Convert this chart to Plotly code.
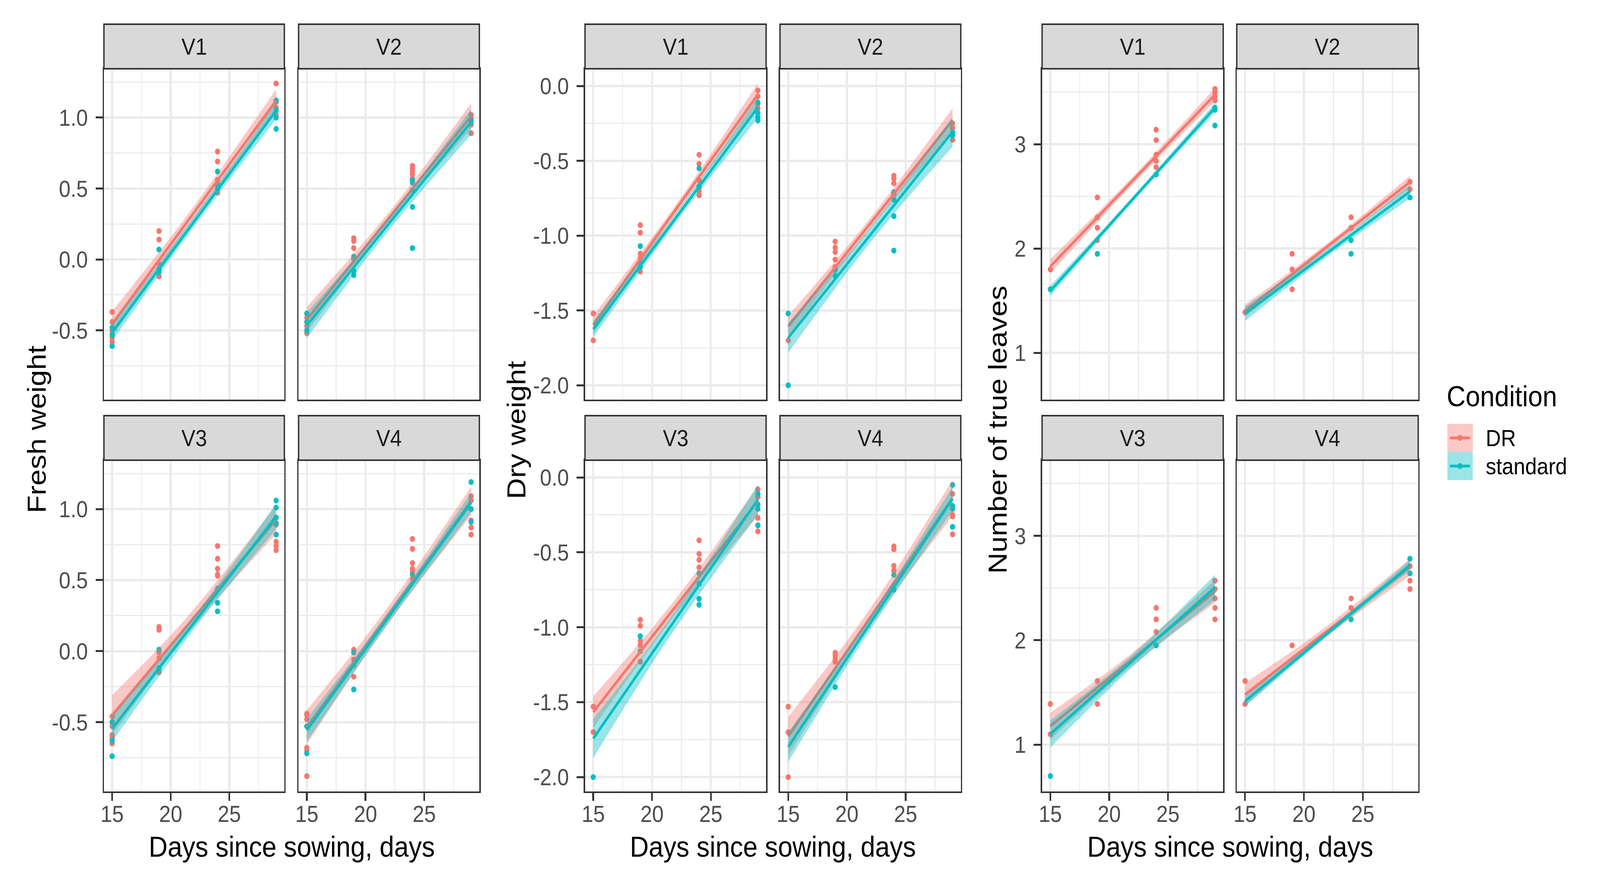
import numpy as np
import plotly.graph_objects as go

# ---------------- data ----------------
DAYS = [15, 19, 24, 29]
VARIETIES = ["V1", "V2", "V3", "V4"]
CONDITIONS = ["DR", "standard"]

# values grouped by day (same order as DAYS)
FRESH_V1_DR = [[-0.37, -0.44, -0.50, -0.55, -0.58], [0.20, 0.14, -0.03, -0.12], [0.76, 0.69, 0.56, 0.47, 0.53], [1.24, 1.11, 1.07, 1.02]]
FRESH_V1_STD = [[-0.48, -0.53, -0.61], [0.07, -0.07, -0.09], [0.62, 0.52, 0.50], [1.12, 1.05, 1.00, 0.92]]
FRESH_V2_DR = [[-0.41, -0.44, -0.47, -0.52], [0.15, 0.13, 0.08, 0.00], [0.66, 0.64, 0.62, 0.60, 0.57], [1.02, 1.00, 0.95, 0.89]]
FRESH_V2_STD = [[-0.38, -0.44, -0.50], [0.02, -0.08, -0.11], [0.56, 0.54, 0.49, 0.37, 0.08], [0.98, 0.97]]
FRESH_V3_DR = [[-0.46, -0.53, -0.59, -0.61, -0.65], [0.17, 0.15, -0.01, -0.05, -0.15], [0.74, 0.65, 0.58, 0.54, 0.53], [0.90, 0.89, 0.77, 0.74, 0.71]]
FRESH_V3_STD = [[-0.50, -0.63, -0.74], [0.01, -0.12], [0.44, 0.34, 0.28], [1.06, 1.01, 0.94, 0.90, 0.82]]
FRESH_V4_DR = [[-0.44, -0.45, -0.48, -0.68, -0.70, -0.88], [0.01, -0.06, -0.10, -0.18], [0.79, 0.72, 0.62, 0.58, 0.56, 0.51], [1.09, 1.06, 0.92, 0.87, 0.82]]
FRESH_V4_STD = [[-0.53, -0.72], [-0.01, -0.27], [0.54], [1.19, 1.00, 0.91]]

DRY_V1_DR = [[-1.52, -1.70], [-0.93, -0.98, -1.12, -1.15, -1.18, -1.24], [-0.46, -0.52, -0.63, -0.70, -0.73], [-0.03, -0.07, -0.12, -0.15]]
DRY_V1_STD = [[], [-1.07, -1.21], [-0.55, -0.67], [-0.11, -0.18, -0.21, -0.23]]
DRY_V2_DR = [[-1.70], [-1.04, -1.08, -1.11, -1.16, -1.21], [-0.60, -0.62, -0.65, -0.72], [-0.25, -0.28, -0.36]]
DRY_V2_STD = [[-1.52, -2.00], [-1.23, -1.27], [-0.71, -0.76, -0.87, -1.10], [-0.31, -0.33]]
DRY_V3_DR = [[-1.53, -1.70], [-0.95, -0.99, -1.09, -1.12, -1.23], [-0.42, -0.51, -0.55, -0.60], [-0.08, -0.13, -0.27, -0.32, -0.36]]
DRY_V3_STD = [[-2.00], [-1.06, -1.16], [-0.64, -0.71, -0.81, -0.85], [-0.11, -0.18, -0.21, -0.32]]
DRY_V4_DR = [[-1.53, -1.70, -2.00], [-1.17, -1.19, -1.21, -1.23], [-0.46, -0.48, -0.59, -0.62], [-0.11, -0.25, -0.26, -0.38]]
DRY_V4_STD = [[], [-1.40], [-0.65, -0.75], [-0.05, -0.19, -0.21, -0.33]]

LEAVES_V1_DR = [[1.80], [2.49, 2.30, 2.20, 2.08], [3.14, 3.04, 2.90, 2.84, 2.78], [3.53, 3.50, 3.46, 3.42]]
LEAVES_V1_STD = [[1.61], [1.95], [2.71], [3.35, 3.33, 3.18]]
LEAVES_V2_DR = [[1.39], [1.95, 1.80, 1.61], [2.30, 2.20], [2.64, 2.57]]
LEAVES_V2_STD = [[], [], [2.08, 1.95], [2.49]]
LEAVES_V3_DR = [[1.39, 1.10], [1.61, 1.39], [2.31, 2.20, 2.08], [2.57, 2.49, 2.40, 2.31, 2.20]]
LEAVES_V3_STD = [[0.70], [], [1.95], []]
LEAVES_V4_DR = [[1.61, 1.39], [1.95], [2.40, 2.31], [2.71, 2.57, 2.49]]
LEAVES_V4_STD = [[], [], [2.20], [2.78, 2.64]]

# fitted line (value at day 15, value at day 29) per variety
FRESH_DR_FIT = [[-0.455, 1.12], [-0.424, 1.01], [-0.451, 0.927], [-0.536, 1.056]]
FRESH_STD_FIT = [[-0.515, 1.05], [-0.465, 0.97], [-0.547, 0.949], [-0.558, 1.045]]
DRY_DR_FIT = [[-1.597, -0.057], [-1.606, -0.229], [-1.566, -0.158], [-1.728, -0.138]]
DRY_STD_FIT = [[-1.625, -0.143], [-1.683, -0.306], [-1.743, -0.148], [-1.799, -0.142]]
LEAVES_DR_FIT = [[1.829, 3.475], [1.403, 2.638], [1.177, 2.468], [1.48, 2.70]]
LEAVES_STD_FIT = [[1.595, 3.351], [1.376, 2.547], [1.102, 2.506], [1.416, 2.718]]

# confidence band half-width (day 15, middle, day 29) per variety
FRESH_DR_CI = [[0.09, 0.045, 0.08], [0.09, 0.04, 0.09], [0.14, 0.06, 0.10], [0.12, 0.06, 0.10]]
FRESH_STD_CI = [[0.06, 0.035, 0.06], [0.09, 0.045, 0.09], [0.09, 0.045, 0.09], [0.08, 0.04, 0.07]]
DRY_DR_CI = [[0.06, 0.03, 0.075], [0.07, 0.035, 0.08], [0.105, 0.05, 0.10], [0.13, 0.06, 0.12]]
DRY_STD_CI = [[0.055, 0.03, 0.07], [0.10, 0.05, 0.10], [0.13, 0.06, 0.10], [0.10, 0.045, 0.08]]
LEAVES_DR_CI = [[0.07, 0.035, 0.065], [0.06, 0.03, 0.06], [0.13, 0.06, 0.11], [0.11, 0.05, 0.08]]
LEAVES_STD_CI = [[0.05, 0.025, 0.045], [0.07, 0.035, 0.065], [0.13, 0.06, 0.12], [0.05, 0.025, 0.05]]

X_TICKS = [15, 20, 25]
X_TICK_LABELS = ["15", "20", "25"]
X_MINOR = [17.5, 22.5, 27.5]
FRESH_TICKS = [-0.5, 0.0, 0.5, 1.0]
FRESH_TICK_LABELS = ["-0.5", "0.0", "0.5", "1.0"]
FRESH_MINOR = [-0.75, -0.25, 0.25, 0.75, 1.25]
DRY_TICKS = [-2.0, -1.5, -1.0, -0.5, 0.0]
DRY_TICK_LABELS = ["-2.0", "-1.5", "-1.0", "-0.5", "0.0"]
DRY_MINOR = [-1.75, -1.25, -0.75, -0.25]
LEAVES_TICKS = [1, 2, 3]
LEAVES_TICK_LABELS = ["1", "2", "3"]
LEAVES_MINOR = [1.5, 2.5, 3.5]

Y_TITLES = ["Fresh weight", "Dry weight", "Number of true leaves"]
X_TITLE = "Days since sowing, days"
LEGEND_TITLE = "Condition"

# ---------------- styling / layout ----------------
W, H = 4593, 2268
FONT = "Liberation Sans, Arial, sans-serif"
COL = {"DR": "#F8766D", "standard": "#00BFC4"}
FILL = {"DR": "rgba(248,118,109,0.4)", "standard": "rgba(0,191,196,0.4)"}
GRID = "#EBEBEB"
DARK = "#333333"
TITLE_SIZE = 75
TEXT_SIZE = 60

PANEL_X = [[(289, 808), (849, 1369)], [(1673, 2194), (2234, 2754)], [(2988, 3509), (3548, 4070)]]
ROW_Y = [(176, 1023), (1178, 2026)]
STRIP_Y = [(62, 176), (1064, 1178)]
X_RANGE = [14.3, 29.7]
Y_RANGES = [[-0.988, 1.344], [-2.096, 0.115], [0.552, 3.724]]


def px(x):
    return x / W


def py(y):
    return 1 - y / H


measures = [
    dict(dr=[FRESH_V1_DR, FRESH_V2_DR, FRESH_V3_DR, FRESH_V4_DR],
         st=[FRESH_V1_STD, FRESH_V2_STD, FRESH_V3_STD, FRESH_V4_STD],
         drfit=FRESH_DR_FIT, stfit=FRESH_STD_FIT, drci=FRESH_DR_CI, stci=FRESH_STD_CI,
         ticks=FRESH_TICKS, labels=FRESH_TICK_LABELS, minor=FRESH_MINOR),
    dict(dr=[DRY_V1_DR, DRY_V2_DR, DRY_V3_DR, DRY_V4_DR],
         st=[DRY_V1_STD, DRY_V2_STD, DRY_V3_STD, DRY_V4_STD],
         drfit=DRY_DR_FIT, stfit=DRY_STD_FIT, drci=DRY_DR_CI, stci=DRY_STD_CI,
         ticks=DRY_TICKS, labels=DRY_TICK_LABELS, minor=DRY_MINOR),
    dict(dr=[LEAVES_V1_DR, LEAVES_V2_DR, LEAVES_V3_DR, LEAVES_V4_DR],
         st=[LEAVES_V1_STD, LEAVES_V2_STD, LEAVES_V3_STD, LEAVES_V4_STD],
         drfit=LEAVES_DR_FIT, stfit=LEAVES_STD_FIT, drci=LEAVES_DR_CI, stci=LEAVES_STD_CI,
         ticks=LEAVES_TICKS, labels=LEAVES_TICK_LABELS, minor=LEAVES_MINOR),
]


def flatten(groups):
    xs, ys = [], []
    for d, vals in zip(DAYS, groups):
        for v in vals:
            xs.append(d)
            ys.append(v)
    return xs, ys


def band(fit, ci):
    x0, x1 = DAYS[0], DAYS[-1]
    xs = np.linspace(x0, x1, 57)
    yc = fit[0] + (fit[1] - fit[0]) * (xs - x0) / (x1 - x0)
    xm = (x0 + x1) / 2
    h15, hm, h29 = ci
    t = np.abs(xs - xm) / (xm - x0)
    hend = np.where(xs <= xm, h15, h29)
    h = np.sqrt(hm ** 2 + (hend ** 2 - hm ** 2) * t ** 2)
    return (list(xs) + list(xs[::-1]), list(yc + h) + list((yc - h)[::-1]))


fig = go.Figure()
layout = {}
shapes = []
annotations = []
tickfont = dict(family=FONT, size=TEXT_SIZE, color="#4D4D4D")

for m, meas in enumerate(measures):
    for v in range(4):
        k = m * 4 + v + 1
        col, row = v % 2, v // 2
        xa, ya = f"x{k}", f"y{k}"
        (x0p, x1p) = PANEL_X[m][col]
        (y0p, y1p) = ROW_Y[row]
        bottom = row == 1
        left = col == 0
        layout[f"xaxis{k}"] = dict(
            domain=[px(x0p), px(x1p)], anchor=ya, range=X_RANGE,
            tickvals=X_TICKS, ticktext=X_TICK_LABELS, showticklabels=bottom,
            ticks="outside" if bottom else "", ticklen=20, tickwidth=5, tickcolor=DARK,
            ticklabelstandoff=-18,
            tickfont=tickfont, showgrid=True, gridcolor=GRID, gridwidth=5.5,
            minor=dict(tickvals=X_MINOR, showgrid=True, gridcolor=GRID, gridwidth=2.8, ticks=""),
            showline=True, mirror=True, linecolor=DARK, linewidth=4, zeroline=False,
        )
        layout[f"yaxis{k}"] = dict(
            domain=[py(y1p), py(y0p)], anchor=xa, range=Y_RANGES[m],
            tickvals=meas["ticks"], ticktext=meas["labels"], showticklabels=left,
            ticks="outside" if left else "", ticklen=20, tickwidth=5, tickcolor=DARK,
            ticklabelstandoff=10,
            tickfont=tickfont, showgrid=True, gridcolor=GRID, gridwidth=5.5,
            minor=dict(tickvals=meas["minor"], showgrid=True, gridcolor=GRID, gridwidth=2.8, ticks=""),
            showline=True, mirror=True, linecolor=DARK, linewidth=4, zeroline=False,
        )
        # points
        for cond, groups in (("DR", meas["dr"][v]), ("standard", meas["st"][v])):
            xs, ys = flatten(groups)
            fig.add_trace(go.Scatter(x=xs, y=ys, mode="markers", xaxis=xa, yaxis=ya,
                                     marker=dict(color=COL[cond], size=15, line=dict(width=0)),
                                     name=cond, showlegend=False, hoverinfo="skip"))
        # smooth: band then line per group
        for cond, fit, ci in (("DR", meas["drfit"][v], meas["drci"][v]),
                              ("standard", meas["stfit"][v], meas["stci"][v])):
            bx, by = band(fit, ci)
            fig.add_trace(go.Scatter(x=bx, y=by, mode="lines", fill="toself", fillcolor=FILL[cond],
                                     line=dict(width=0), xaxis=xa, yaxis=ya, showlegend=False,
                                     hoverinfo="skip"))
            fig.add_trace(go.Scatter(x=[DAYS[0], DAYS[-1]], y=fit, mode="lines",
                                     line=dict(color=COL[cond], width=7), xaxis=xa, yaxis=ya,
                                     showlegend=False, hoverinfo="skip"))
        # strip
        (s0, s1) = STRIP_Y[row]
        shapes.append(dict(type="rect", xref="paper", yref="paper", x0=px(x0p), x1=px(x1p),
                           y0=py(s1), y1=py(s0), fillcolor="#D9D9D9",
                           line=dict(color=DARK, width=4), layer="above"))
        annotations.append(dict(text=VARIETIES[v], xref="paper", yref="paper",
                                x=px((x0p + x1p) / 2), y=py((s0 + s1) / 2), showarrow=False,
                                xanchor="center", yanchor="middle",
                                font=dict(family=FONT, size=TEXT_SIZE, color="#1A1A1A")))

# axis titles
Y_TITLE_POS = [(95, 1099), (1475, 1101), (2860, 1100)]
for m in range(3):
    annotations.append(dict(text=Y_TITLES[m], xref="paper", yref="paper",
                            x=px(Y_TITLE_POS[m][0]), y=py(Y_TITLE_POS[m][1]), textangle=-90,
                            showarrow=False, xanchor="center", yanchor="middle",
                            font=dict(family=FONT, size=TITLE_SIZE, color="black")))
    cx = (PANEL_X[m][0][0] + PANEL_X[m][1][1]) / 2
    annotations.append(dict(text=X_TITLE, xref="paper", yref="paper", x=px(cx), y=py(2167),
                            showarrow=False, xanchor="center", yanchor="middle",
                            font=dict(family=FONT, size=TITLE_SIZE, color="black")))

# legend
annotations.append(dict(text=LEGEND_TITLE, xref="paper", yref="paper", x=px(4150), y=py(1014),
                        showarrow=False, xanchor="left", yanchor="middle",
                        font=dict(family=FONT, size=TITLE_SIZE, color="black")))
KEY_Y = [(1085, 1157), (1157, 1229)]
for i, cond in enumerate(CONDITIONS):
    k0, k1 = KEY_Y[i]
    shapes.append(dict(type="rect", xref="paper", yref="paper", x0=px(4154), x1=px(4227),
                       y0=py(k1), y1=py(k0), fillcolor=FILL[cond], line=dict(width=0)))
    yc = (k0 + k1) / 2
    shapes.append(dict(type="line", xref="paper", yref="paper", x0=px(4161), x1=px(4219),
                       y0=py(yc), y1=py(yc), line=dict(color=COL[cond], width=7)))
    shapes.append(dict(type="circle", xref="paper", yref="paper", xsizemode="pixel",
                       ysizemode="pixel", xanchor=px(4190), yanchor=py(yc),
                       x0=-7.5, x1=7.5, y0=-7.5, y1=7.5, fillcolor=COL[cond],
                       line=dict(width=0)))
    annotations.append(dict(text=cond, xref="paper", yref="paper", x=px(4262), y=py(yc),
                            showarrow=False, xanchor="left", yanchor="middle",
                            font=dict(family=FONT, size=TEXT_SIZE, color="black")))

fig.update_layout(width=W, height=H, margin=dict(l=0, r=0, t=0, b=0),
                  paper_bgcolor="white", plot_bgcolor="white", showlegend=False,
                  shapes=shapes, annotations=annotations, font=dict(family=FONT), **layout)

# fit the fixed-size figure exactly into the browser viewport
FIT_SCRIPT = """
var gd = document.getElementById('{plot_id}');
var de = document.documentElement;
de.style.margin = '0'; de.style.padding = '0'; de.style.overflow = 'hidden';
document.body.style.margin = '0'; document.body.style.padding = '0';
document.body.style.overflow = 'hidden'; document.body.style.background = 'white';
var sx = de.clientWidth / %d;
var sy = de.clientHeight / %d;
gd.style.transformOrigin = '0 0';
gd.style.transform = 'scale(' + sx + ',' + sy + ')';
var p = gd.parentElement;
p.style.width = (%d * sx) + 'px';
p.style.height = (%d * sy) + 'px';
p.style.overflow = 'hidden';
""" % (W, H, W, H)

fig.write_html("out.html", post_script=FIT_SCRIPT, config={"displayModeBar": False})
